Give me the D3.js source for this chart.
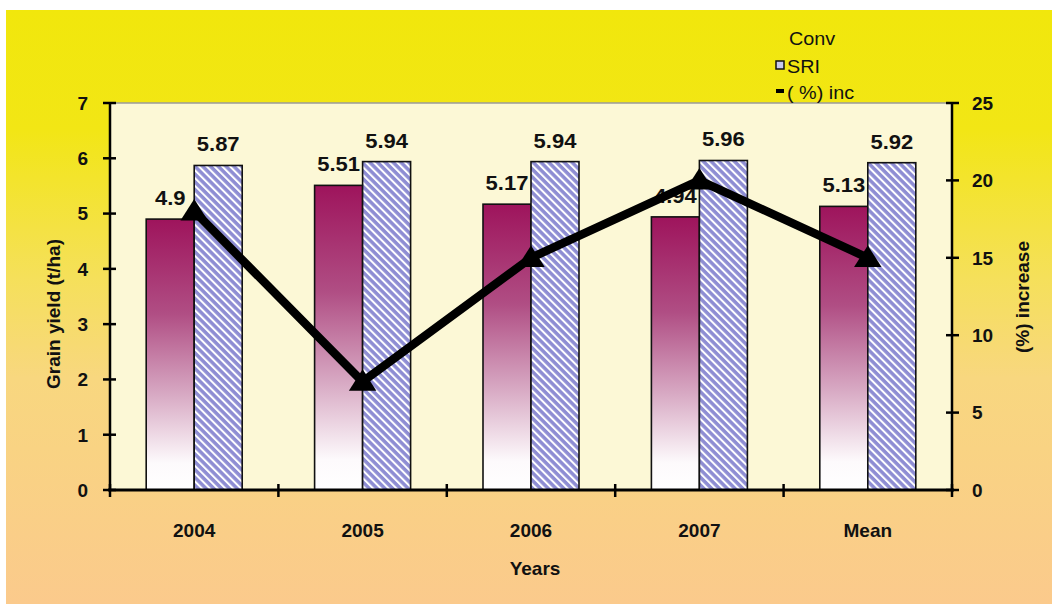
<!DOCTYPE html>
<html><head><meta charset="utf-8">
<script src="https://cdn.jsdelivr.net/npm/d3@7"></script>
<style>body{margin:0;background:#fff}svg{display:block;font-family:"Liberation Sans",Arial,sans-serif}</style>
</head><body><svg id="c" width="1052" height="604"></svg>
<script>
const categories = ["2004","2005","2006","2007","Mean"];
const convValues = [4.9, 5.51, 5.17, 4.94, 5.13];
const sriValues = [5.87, 5.94, 5.94, 5.96, 5.92];
const convLabels = ["4.9","5.51","5.17","4.94","5.13"];
const sriLabels = ["5.87","5.94","5.94","5.96","5.92"];
const pctIncrease = [18, 7, 15, 20, 15];
const leftTicks = [0,1,2,3,4,5,6,7];
const rightTicks = [0,5,10,15,20,25];
const seriesNames = ["Conv","SRI","( %) inc"];

(function(){
const svg = d3.select("#c");
const defs = svg.append("defs");
const bg = defs.append("linearGradient").attr("id","bg").attr("x1",0).attr("y1",0).attr("x2",0).attr("y2",1);
[[0,"#f1e70c"],[0.2,"#f2e615"],[0.45,"#f5e05a"],[0.62,"#f8d77f"],[1,"#fbca8c"]].forEach(s=>bg.append("stop").attr("offset",s[0]).attr("stop-color",s[1]));
const cg = defs.append("linearGradient").attr("id","conv").attr("x1",0).attr("y1",0).attr("x2",0).attr("y2",1);
[[0,"#9e145c"],[0.35,"#b04e84"],[0.65,"#d8aac4"],[0.9,"#fdfafc"],[1,"#ffffff"]].forEach(s=>cg.append("stop").attr("offset",s[0]).attr("stop-color",s[1]));
const pat = defs.append("pattern").attr("id","hatch").attr("patternUnits","userSpaceOnUse")
  .attr("width",5.5).attr("height",5.5).attr("patternTransform","rotate(-45)");
pat.append("rect").attr("width",5.5).attr("height",5.5).attr("fill","#8e8dd3");
pat.append("rect").attr("x",0).attr("width",2).attr("height",5.5).attr("fill","#ffffff");

svg.append("rect").attr("x",6).attr("y",10).attr("width",1046).attr("height",594).attr("fill","url(#bg)");

const pL = 110, pR = 952, pT = 103, pB = 490;
const x0 = d3.scaleBand().domain(categories).range([pL,pR]).padding(0);
const x1 = d3.scaleBand().domain(["Conv","SRI"]).range([x0.bandwidth()/2-48, x0.bandwidth()/2+48]);
const y = d3.scaleLinear().domain([0,7]).range([pB,pT]);
const y2 = d3.scaleLinear().domain([0,25]).range([pB,pT]);

svg.append("rect").attr("x",pL).attr("y",pT).attr("width",pR-pL).attr("height",pB-pT)
  .attr("fill","#fcf8d6").attr("stroke","#9a9a9a").attr("stroke-width",1.5);

const g = svg.append("g");
categories.forEach((c,i)=>{
  const bx = x0(c);
  g.append("rect").attr("x",bx+x1("Conv")).attr("y",y(convValues[i])).attr("width",x1.bandwidth())
    .attr("height",y(0)-y(convValues[i])).attr("fill","url(#conv)").attr("stroke","#111").attr("stroke-width",1.6);
  g.append("rect").attr("x",bx+x1("SRI")).attr("y",y(sriValues[i])).attr("width",x1.bandwidth())
    .attr("height",y(0)-y(sriValues[i])).attr("fill","url(#hatch)").attr("stroke","#111").attr("stroke-width",1.6);
});

const ax = svg.append("g").attr("font-weight","bold").attr("font-size",19).attr("fill","#111");
svg.append("line").attr("x1",pL).attr("x2",pL).attr("y1",pT).attr("y2",pB).attr("stroke","#000").attr("stroke-width",2.5);
svg.append("line").attr("x1",pR).attr("x2",pR).attr("y1",pT).attr("y2",pB).attr("stroke","#000").attr("stroke-width",2.5);
leftTicks.forEach(t=>{
  svg.append("line").attr("x1",pL-7).attr("x2",pL+6).attr("y1",y(t)).attr("y2",y(t)).attr("stroke","#000").attr("stroke-width",2.5);
  ax.append("text").attr("x",88).attr("y",y(t)).attr("dy","0.36em").attr("text-anchor","end").text(t);
});
rightTicks.forEach(t=>{
  svg.append("line").attr("x1",pR-6).attr("x2",pR+7).attr("y1",y2(t)).attr("y2",y2(t)).attr("stroke","#000").attr("stroke-width",2.5);
  ax.append("text").attr("x",972).attr("y",y2(t)).attr("dy","0.36em").attr("text-anchor","start").text(t);
});
svg.append("line").attr("x1",pL-2).attr("x2",pR+2).attr("y1",pB).attr("y2",pB).attr("stroke","#000").attr("stroke-width",3);
const bounds = categories.map(c=>x0(c)).concat([pR]);
bounds.forEach(b=>{
  svg.append("line").attr("x1",b).attr("x2",b).attr("y1",pB-6).attr("y2",pB+7).attr("stroke","#000").attr("stroke-width",2.5);
});
categories.forEach(c=>{
  ax.append("text").attr("x",x0(c)+x0.bandwidth()/2).attr("y",537).attr("text-anchor","middle").text(c);
});
ax.append("text").attr("x",535).attr("y",575).attr("text-anchor","middle").text("Years");
ax.append("text").attr("transform","translate(60,314) rotate(-90)").attr("text-anchor","middle").text("Grain yield (t/ha)");
ax.append("text").attr("transform","translate(1029,297) rotate(-90)").attr("text-anchor","middle").text("(%) increase");

const lab = svg.append("g").attr("font-weight","bold").attr("font-size",20).attr("fill","#111").attr("text-anchor","middle");
categories.forEach((c,i)=>{
  lab.append("text").attr("transform",`translate(${x0(c)+x1("Conv")+x1.bandwidth()/2},${y(convValues[i])-14}) scale(1.1,1)`).text(convLabels[i]);
  lab.append("text").attr("transform",`translate(${x0(c)+x1("SRI")+x1.bandwidth()/2},${y(sriValues[i])-14}) scale(1.1,1)`).text(sriLabels[i]);
});

const line = d3.line().x((d,i)=>x0(categories[i])+x0.bandwidth()/2).y(d=>y2(d));
svg.append("path").attr("d",line(pctIncrease)).attr("fill","none").attr("stroke","#000").attr("stroke-width",8.5).attr("stroke-linejoin","round");
const tri = d3.symbol().type(d3.symbolTriangle).size(270);
pctIncrease.forEach((v,i)=>{
  svg.append("path").attr("d",tri()).attr("transform",`translate(${x0(categories[i])+x0.bandwidth()/2},${y2(v)+2}) scale(1.1,1)`).attr("fill","#000");
});

const lg = svg.append("g").attr("font-size",18).attr("fill","#111");
lg.append("text").attr("transform","translate(789,45) scale(1.1,1)").text(seriesNames[0]);
lg.append("rect").attr("x",776).attr("y",61).attr("width",8).attr("height",8).attr("fill","#c8c8ee").attr("stroke","#111").attr("stroke-width",1.5);
lg.append("text").attr("transform","translate(787,73) scale(1.1,1)").text(seriesNames[1]);
lg.append("rect").attr("x",776).attr("y",89).attr("width",8).attr("height",4).attr("fill","#000");
lg.append("text").attr("transform","translate(787,99) scale(1.1,1)").text(seriesNames[2]);
})();
</script></body></html>
